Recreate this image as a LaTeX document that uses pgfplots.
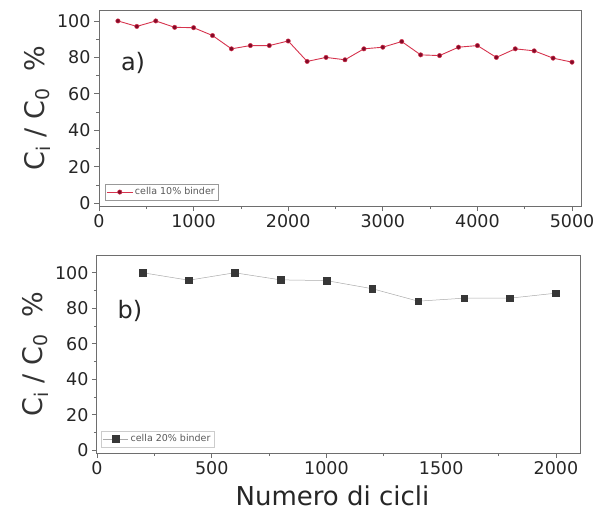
\documentclass[border=0pt]{standalone}
\usepackage{pgfplots}
\pgfplotsset{compat=1.18}
\usepackage{fontspec}
\setmainfont{DejaVu Sans}

\definecolor{lineRed}{RGB}{214,52,78}
\definecolor{markRed}{RGB}{130,10,40}
\definecolor{frameGray}{RGB}{110,110,110}
\definecolor{sqGray}{RGB}{55,55,55}
\definecolor{thinGray}{RGB}{170,170,170}

\pgfplotsset{
  panel/.style={
    scale only axis,
    axis line style={frameGray, line width=1pt},
    tick style={frameGray, line width=0.8pt},
    tick align=outside,
    xtick pos=bottom, ytick pos=left,
    minor x tick num=1, minor y tick num=1,
    major tick length=5pt, minor tick length=3pt,
    /pgf/number format/assume math mode=true,
    /pgf/number format/1000 sep={},
    tick label style={font=\fontsize{17.5}{17.5}\selectfont, text=black!85},
    ytick={0,20,40,60,80,100},
    ylabel={C\textsubscript{i} / C\textsubscript{0}\ \ \%},
    ylabel style={font=\fontsize{27}{27}\selectfont, text=black!80},
    legend cell align=left,
    legend image code/.code={%
      \draw[mark repeat=2, mark phase=2]
        plot coordinates {(0cm,0cm) (0.45cm,0cm) (0.9cm,0cm)};},
    legend style={font=\fontsize{9.5}{9.5}\selectfont, draw=black!40,
      inner sep=1.5pt, row sep=0pt, text=black!65},
  },
}

\begin{document}
\begin{tikzpicture}
\path (0,0) rectangle (598pt,-523pt);

% Panel a: 10% binder cell
\begin{axis}[panel,
  at={(99pt,-10pt)}, anchor=north west,
  width=482pt, height=196pt,
  xmin=0, xmax=5095, ymin=-1.5, ymax=106,
  xtick={0,1000,2000,3000,4000,5000},
  legend style={at={(0.012,0.03)}, anchor=south west},
]
\addplot[color=lineRed, line width=0.9pt, mark=*, mark size=2.2pt,
  mark options={fill=markRed, draw=lineRed, line width=0.5pt}]
  coordinates {
  (200,100) (400,97) (600,100) (800,96.5) (1000,96.3) (1200,92)
  (1400,84.7) (1600,86.5) (1800,86.5) (2000,89) (2200,77.8) (2400,80)
  (2600,78.7) (2800,84.7) (3000,85.6) (3200,88.7) (3400,81.4) (3600,81)
  (3800,85.6) (4000,86.5) (4200,80) (4400,84.7) (4600,83.6) (4800,79.6)
  (5000,77.4)};
\addlegendentry{cella 10\% binder}
\node[font=\fontsize{24}{24}\selectfont, text=black!85] at (axis cs:360,77) {a)};
\end{axis}

% Panel b: 20% binder cell
\begin{axis}[panel,
  at={(97pt,-255pt)}, anchor=north west,
  width=483pt, height=198pt,
  xmin=0, xmax=2105, ymin=-1.5, ymax=110,
  xtick={0,500,1000,1500,2000},
  xlabel={Numero di cicli},
  xlabel style={font=\fontsize{26}{26}\selectfont, text=black!85, yshift=-4pt, xshift=-6pt},
  legend style={at={(0.008,0.03)}, anchor=south west, draw=black!20},
]
\addplot[color=thinGray, line width=0.5pt, mark=square*, mark size=3.3pt,
  mark options={fill=sqGray, draw=sqGray}]
  coordinates {
  (200,100) (400,95.8) (600,100) (800,96) (1000,95.6) (1200,91)
  (1400,84) (1600,85.7) (1800,85.7) (2000,88.5)};
\addlegendentry{cella 20\% binder}
\node[font=\fontsize{24}{24}\selectfont, text=black!85] at (axis cs:144,78.5) {b)};
\end{axis}
\end{tikzpicture}
\end{document}
